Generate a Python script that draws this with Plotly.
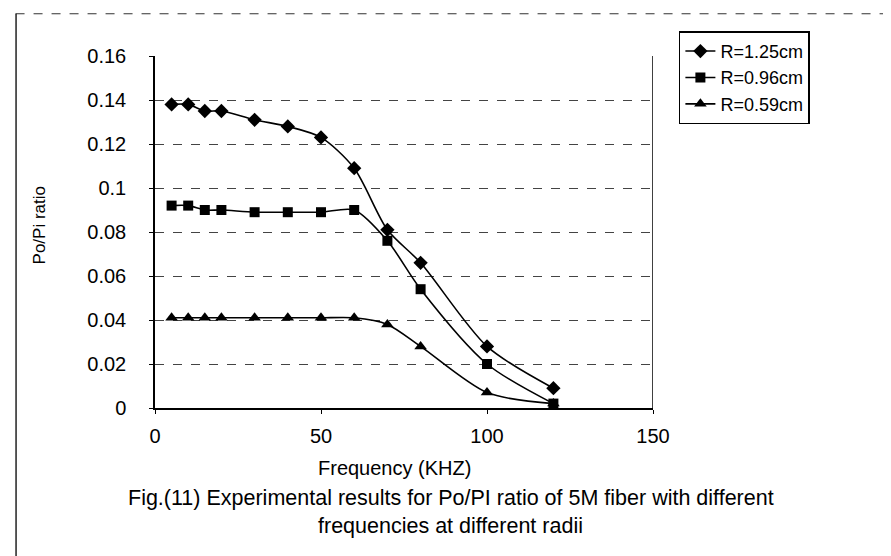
import plotly.graph_objects as go

freq = [5, 10, 15, 20, 30, 40, 50, 60, 70, 80, 100, 120]
r125 = [0.138, 0.138, 0.135, 0.135, 0.131, 0.128, 0.123, 0.109, 0.081, 0.066, 0.028, 0.009]
r096 = [0.092, 0.092, 0.090, 0.090, 0.089, 0.089, 0.089, 0.090, 0.076, 0.054, 0.020, 0.002]
r059 = [0.041, 0.041, 0.041, 0.041, 0.041, 0.041, 0.041, 0.041, 0.038, 0.028, 0.007, 0.002]
names = ["R=1.25cm", "R=0.96cm", "R=0.59cm"]
symbols = ["diamond", "square", "triangle-up"]
sizes = [11, 10, 11]
ytick_vals = [0, 0.02, 0.04, 0.06, 0.08, 0.1, 0.12, 0.14, 0.16]
ytick_text = ["0", "0.02", "0.04", "0.06", "0.08", "0.1", "0.12", "0.14", "0.16"]
xtick_vals = [0, 50, 100, 150]

fig = go.Figure()
for ys, nm, sym, sz in zip([r125, r096, r059], names, symbols, sizes):
    fig.add_trace(go.Scatter(
        x=freq, y=ys, name=nm, mode="lines+markers",
        line=dict(color="black", width=1.6, shape="spline", smoothing=0.8),
        marker=dict(symbol=sym, size=sz, color="black"),
    ))

font = "Liberation Sans, Arial, sans-serif"
fig.update_layout(
    width=891, height=556,
    margin=dict(l=147, r=246, t=48, b=156),
    paper_bgcolor="white", plot_bgcolor="white",
    font=dict(family=font, color="black", size=18),
    showlegend=True,
    legend=dict(x=1.052, y=1.07, xanchor="left", yanchor="top",
                bordercolor="black", borderwidth=1.5, bgcolor="white",
                font=dict(size=18), itemwidth=30, tracegroupgap=0),
    xaxis=dict(range=[0, 150], tickvals=xtick_vals, showgrid=False,
               showline=True, linecolor="black", linewidth=1.5,
               ticks="outside", ticklen=4, tickcolor="black", zeroline=False,
               tickfont=dict(size=20), ticklabelstandoff=5),
    yaxis=dict(range=[0, 0.16], tickvals=ytick_vals, ticktext=ytick_text,
               showgrid=True, gridcolor="#444", griddash="dash", gridwidth=1,
               showline=True, linecolor="black", linewidth=1.5, zeroline=False,
               ticks="outside", ticklen=4, tickcolor="black",
               tickfont=dict(size=20), ticklabelstandoff=19),
)

# right border of plot area
fig.add_shape(type="line", xref="x", yref="y", x0=150, x1=150, y0=0, y1=0.16,
              line=dict(color="black", width=1.5))
# outer frame lines (top dashed, left solid)
fig.add_shape(type="line", xref="paper", yref="paper", x0=-0.28, x1=1.5, y0=1.12, y1=1.12,
              line=dict(color="#333", width=1.2, dash="dash"))
fig.add_shape(type="line", xref="paper", yref="paper", x0=-0.279, x1=-0.279, y0=1.12, y1=-0.44,
              line=dict(color="#222", width=1.5))

fig.add_annotation(x=-0.23, y=0.52, xref="paper", yref="paper", showarrow=False,
                   text="Po/Pi ratio", textangle=-90, font=dict(size=17),
                   xanchor="center", yanchor="middle")
fig.add_annotation(x=0.48, y=-0.17, xref="paper", yref="paper", showarrow=False,
                   text="Frequency (KHZ)", font=dict(size=20),
                   xanchor="center", yanchor="middle")
fig.add_annotation(x=0.594, y=-0.256, xref="paper", yref="paper", showarrow=False,
                   text="Fig.(11) Experimental results for Po/PI ratio of 5M fiber with different",
                   font=dict(size=21.5), xanchor="center", yanchor="middle")
fig.add_annotation(x=0.594, y=-0.334, xref="paper", yref="paper", showarrow=False,
                   text="frequencies at different radii",
                   font=dict(size=21.5), xanchor="center", yanchor="middle")

fig.write_html("out.html")
